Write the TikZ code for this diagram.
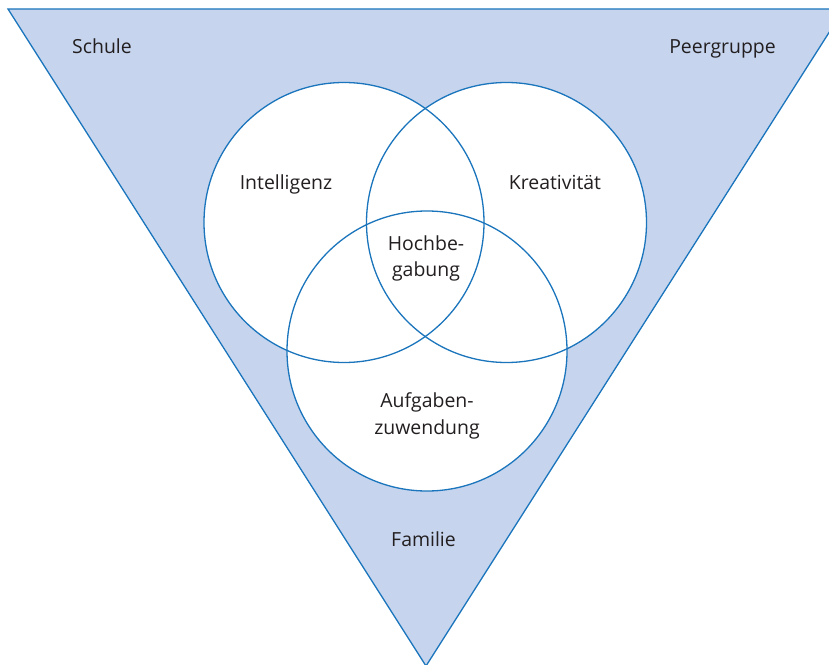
\documentclass[tikz,border=0pt]{standalone}
\usepackage{fontspec}
\setsansfont{Open Sans}
\usepackage{tikz}
\usetikzlibrary{positioning}
\definecolor{vennline}{HTML}{1A75BC}
\definecolor{vennfill}{HTML}{C6D4EE}
\definecolor{venntext}{HTML}{231F20}

\begin{document}
\begin{tikzpicture}[x=1bp,y=-1bp,font=\sffamily\fontsize{19.5}{26.5}\selectfont,text=venntext,every node/.append style={align=center,anchor=base},vennset/.style={circle,draw=vennline,line width=1.3bp,minimum size=280bp,inner sep=0pt,anchor=center}]

\useasboundingbox (0,0) rectangle (829,665);
\begin{scope}
\clip (0,0) rectangle (829,665);
\fill[vennfill,draw=vennline,line width=1.3bp] (8,9) -- (844,9) -- (426,666) -- cycle;
\end{scope}

\fill[white] (344,222.5) circle[radius=140bp] (506.5,222.5) circle[radius=140bp] (427,351) circle[radius=140bp];

\node[vennset](intel) at (344,222.5){};
\node[vennset](kreat) at (506.5,222.5){};
\node[vennset](aufg) at (427,351){};

\node(schule) at (102,54){Schule};
\node(peer) at (722.5,54){Peergruppe};
\node(familie) at (423.5,546.5){Familie};

\node(intellabel) at (286,189){Intelligenz};
\node(kreatlabel) at (555,189){Kreativität};
\node(hochlabel) at (426,276.5){Hochbe-\\gabung};
\node(aufglabel) at (427,434){Aufgaben-\\zuwendung};

\end{tikzpicture}
\end{document}
